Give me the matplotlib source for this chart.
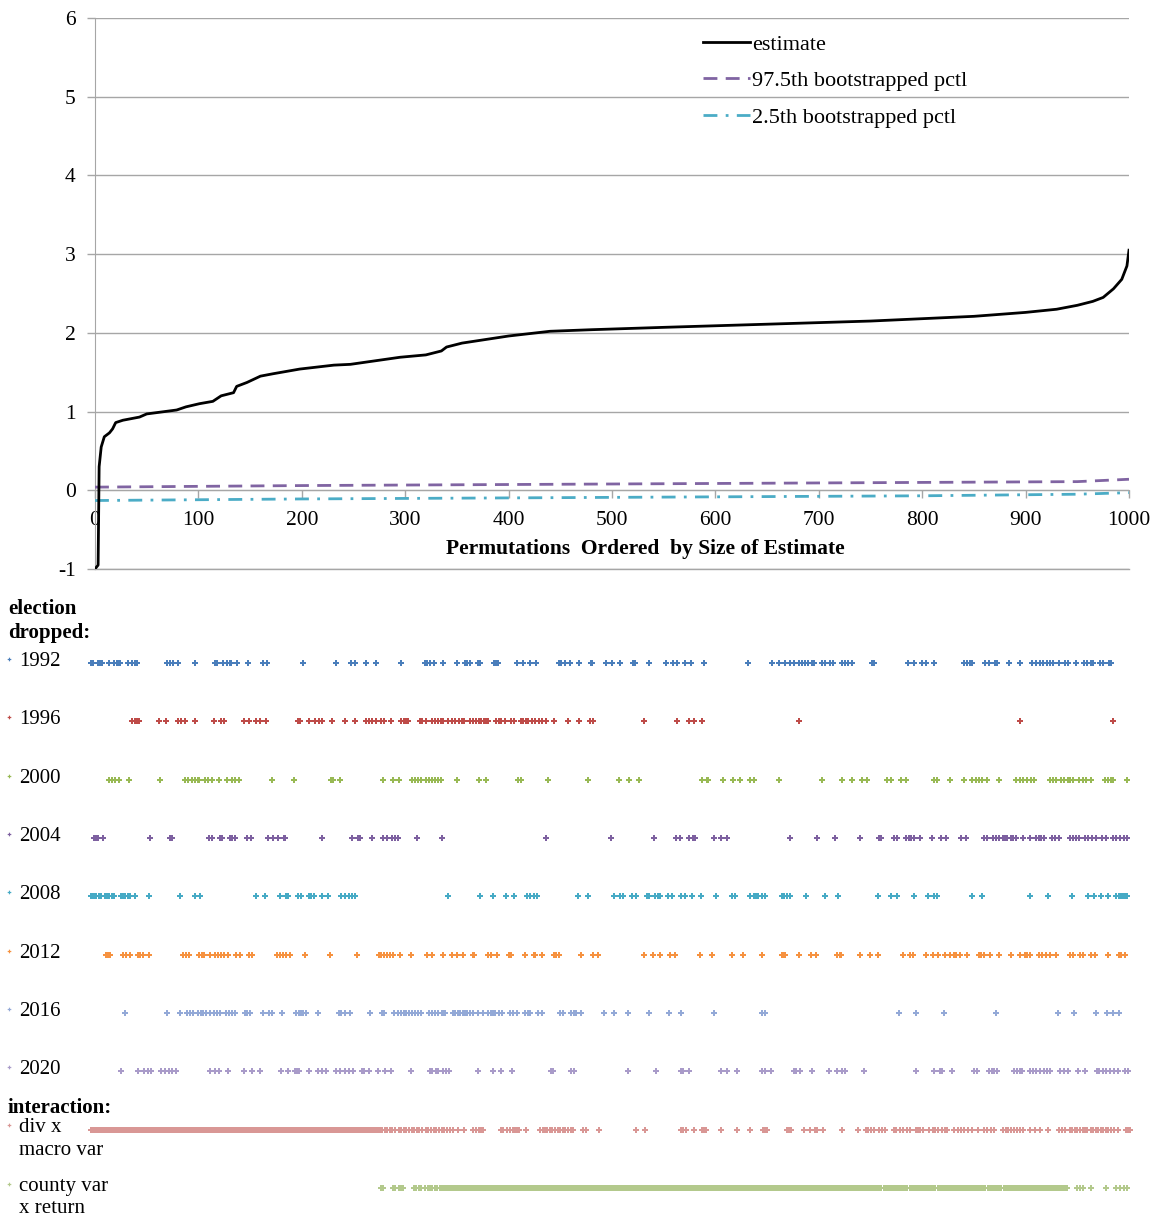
import numpy as np
import matplotlib.pyplot as plt
from matplotlib.lines import Line2D

plt.rcParams['font.family'] = ['Liberation Serif', 'DejaVu Serif']
plt.rcParams['axes.unicode_minus'] = False

W, H = 1157, 1220

# top panel: estimates ordered by size, with bootstrapped percentiles
est_x = [0, 3, 4, 6, 9, 14, 17, 20, 27, 43, 50, 79, 88, 101, 114, 122, 134, 137,
         147, 160, 172, 198, 231, 247, 279, 295, 320, 335, 340, 355, 380, 400,
         420, 440, 480, 550, 600, 650, 700, 750, 800, 850, 900, 930, 950, 965,
         975, 985, 993, 998, 1000]
est_y = [-1.0, -0.95, 0.3, 0.55, 0.68, 0.73, 0.78, 0.86, 0.89, 0.93, 0.97, 1.02,
         1.06, 1.10, 1.13, 1.20, 1.24, 1.32, 1.37, 1.45, 1.48, 1.54, 1.59, 1.60,
         1.66, 1.69, 1.72, 1.77, 1.82, 1.87, 1.92, 1.96, 1.99, 2.02, 2.04, 2.07,
         2.09, 2.11, 2.13, 2.15, 2.18, 2.21, 2.26, 2.30, 2.35, 2.40, 2.45, 2.56,
         2.68, 2.85, 3.05]
hi_x = [0, 200, 500, 800, 950, 1000]
hi_y = [0.04, 0.06, 0.08, 0.10, 0.11, 0.14]
lo_x = [0, 200, 500, 800, 950, 1000]
lo_y = [-0.13, -0.11, -0.09, -0.07, -0.05, -0.03]

# bottom panel: which permutations drop which election / interaction
row_labels = ['1992', '1996', '2000', '2004', '2008', '2012', '2016', '2020',
              'div x\nmacro var', 'county var\nx return']
row_colors = ['#4A7EBB', '#BE4B48', '#98B954', '#7D60A0', '#46AAC5', '#F69240',
              '#93A9D7', '#A99BC9', '#D99795', '#B3C98C']

dots_1992 = [0, 2, 7, 9, 11, 17, 22, 25, 26, 28, 36, 39, 42, 44, 73, 76, 79, 84, 100,
             119, 121, 127, 131, 134, 135, 141, 151, 166, 169, 204, 236, 250, 254, 265,
             274, 298, 321, 323, 326, 330, 339, 352, 360, 362, 365, 372, 374, 388, 390,
             392, 410, 416, 423, 428, 450, 452, 456, 461, 470, 481, 482, 496, 501, 509,
             522, 524, 537, 553, 560, 564, 572, 577, 590, 632, 655, 662, 668, 673, 677,
             681, 684, 687, 690, 694, 696, 704, 706, 711, 714, 723, 726, 729, 732, 752,
             754, 786, 792, 800, 804, 811, 840, 843, 846, 848, 860, 864, 870, 872, 884,
             894, 906, 910, 913, 916, 920, 923, 926, 932, 937, 940, 948, 956, 959, 962,
             964, 971, 974, 980, 982]
dots_1996 = [39, 42, 44, 46, 65, 72, 84, 87, 90, 100, 118, 125, 128, 147, 152, 159, 163,
             168, 199, 201, 210, 216, 219, 222, 232, 244, 254, 265, 268, 270, 274, 279,
             282, 289, 298, 301, 303, 305, 317, 319, 322, 328, 331, 334, 337, 339, 344,
             347, 350, 354, 357, 359, 365, 368, 371, 373, 375, 378, 380, 382, 390, 393,
             395, 398, 404, 407, 414, 416, 419, 421, 424, 427, 431, 434, 438, 446, 459,
             470, 480, 483, 532, 564, 576, 580, 588, 681, 894, 984]
dots_2000 = [17, 20, 23, 27, 37, 66, 90, 93, 97, 100, 103, 104, 110, 113, 116, 123, 131,
             136, 139, 142, 174, 195, 231, 233, 240, 281, 291, 296, 309, 312, 315, 318,
             322, 325, 328, 331, 334, 337, 352, 373, 380, 411, 414, 440, 478, 508, 518,
             527, 588, 593, 594, 608, 618, 625, 634, 638, 662, 704, 723, 732, 742, 747,
             766, 770, 780, 784, 811, 814, 827, 840, 848, 852, 855, 858, 862, 874, 890,
             894, 897, 901, 905, 908, 923, 926, 929, 934, 936, 940, 942, 945, 951, 955,
             958, 962, 976, 979, 982, 984, 997]
dots_2004 = [3, 5, 7, 12, 57, 76, 78, 114, 116, 124, 126, 134, 136, 139, 150, 154, 170,
             175, 180, 186, 187, 222, 251, 257, 259, 270, 281, 285, 290, 293, 295, 314,
             338, 438, 500, 542, 563, 567, 576, 579, 581, 600, 606, 612, 673, 699, 716,
             740, 758, 760, 773, 776, 784, 787, 789, 792, 798, 809, 818, 823, 837, 842,
             859, 862, 868, 871, 874, 878, 880, 882, 885, 887, 890, 897, 904, 910, 912,
             914, 917, 925, 928, 932, 942, 945, 948, 951, 957, 960, 963, 967, 973, 977,
             984, 987, 990, 994, 997]
dots_2008 = [0, 2, 4, 5, 8, 10, 13, 15, 17, 20, 22, 29, 31, 33, 36, 38, 42, 56, 86, 100,
             105, 159, 167, 182, 188, 190, 199, 202, 210, 212, 215, 222, 228, 241, 244,
             248, 251, 254, 344, 374, 387, 399, 407, 420, 423, 426, 429, 469, 478, 503,
             509, 512, 521, 525, 535, 537, 543, 546, 548, 555, 559, 568, 572, 578, 587,
             602, 617, 620, 634, 638, 640, 642, 646, 649, 665, 667, 670, 673, 688, 706,
             719, 757, 770, 776, 792, 806, 811, 814, 848, 858, 904, 921, 944, 960, 965,
             972, 979, 987, 989, 991, 993, 995, 997]
dots_2012 = [14, 16, 18, 31, 34, 38, 45, 47, 50, 56, 89, 91, 94, 104, 107, 109, 115, 119,
             122, 125, 128, 132, 140, 143, 152, 155, 179, 182, 185, 188, 192, 206, 230,
             256, 277, 279, 282, 285, 288, 291, 297, 308, 323, 328, 339, 347, 352, 358,
             368, 369, 382, 385, 391, 402, 404, 418, 426, 427, 434, 446, 448, 450, 472,
             483, 488, 532, 541, 548, 557, 562, 586, 598, 617, 628, 646, 665, 666, 668,
             681, 693, 698, 718, 721, 722, 740, 750, 757, 782, 788, 791, 804, 810, 815,
             822, 827, 831, 833, 836, 843, 855, 857, 859, 865, 874, 885, 894, 899, 901,
             904, 912, 915, 919, 923, 929, 942, 945, 952, 955, 962, 966, 979, 989, 991,
             995]
dots_2016 = [33, 73, 86, 92, 95, 98, 103, 106, 108, 111, 115, 118, 121, 124, 130, 133,
             136, 139, 148, 150, 153, 166, 171, 174, 184, 197, 200, 202, 204, 207, 218,
             239, 241, 244, 249, 269, 280, 282, 292, 295, 298, 301, 303, 306, 309, 312,
             315, 318, 325, 328, 331, 334, 338, 340, 341, 348, 350, 353, 355, 358, 360,
             362, 365, 368, 372, 377, 382, 385, 387, 389, 393, 396, 403, 406, 410, 418,
             421, 423, 430, 434, 451, 454, 462, 465, 467, 472, 494, 503, 517, 537, 556,
             568, 600, 646, 649, 778, 794, 821, 871, 931, 946, 967, 978, 984, 989]
dots_2020 = [29, 45, 51, 55, 58, 67, 71, 75, 78, 82, 115, 119, 123, 132, 147, 155, 163,
             183, 190, 196, 198, 200, 210, 218, 222, 226, 236, 240, 244, 248, 252, 261,
             263, 268, 276, 283, 289, 308, 326, 328, 332, 334, 339, 342, 345, 372, 387,
             395, 405, 443, 445, 462, 465, 517, 544, 568, 570, 576, 606, 612, 622, 646,
             649, 654, 677, 679, 682, 694, 710, 718, 723, 726, 744, 794, 811, 817, 819,
             829, 850, 853, 864, 867, 869, 872, 888, 891, 894, 896, 904, 907, 910, 913,
             917, 920, 923, 933, 936, 940, 950, 957, 968, 970, 974, 977, 981, 985, 988,
             995, 998]
# dense stretches are kept as (first, last) permutation runs
div_macro_runs = [(0, 278)]
div_macro_dots = [280, 283, 285, 288, 290, 293, 296, 298, 301, 303, 306, 309, 311, 314,
                  316, 319, 322, 324, 327, 330, 332, 335, 338, 340, 343, 346, 348, 353,
                  359, 368, 371, 373, 375, 377, 395, 397, 400, 403, 406, 408, 410, 412,
                  419, 432, 435, 437, 439, 442, 444, 447, 449, 451, 454, 456, 459, 462,
                  464, 474, 476, 489, 525, 533, 568, 570, 573, 580, 588, 590, 592, 606,
                  622, 634, 647, 649, 651, 670, 672, 674, 686, 692, 697, 699, 705, 723,
                  738, 746, 748, 751, 754, 758, 761, 764, 773, 775, 779, 782, 785, 788,
                  794, 796, 798, 801, 807, 810, 812, 815, 819, 822, 824, 831, 834, 837,
                  840, 844, 848, 854, 859, 862, 866, 869, 878, 881, 883, 885, 888, 891,
                  894, 897, 904, 909, 913, 921, 932, 935, 937, 942, 944, 947, 949, 952,
                  955, 957, 959, 962, 964, 967, 969, 972, 974, 977, 979, 982, 985, 988,
                  996, 998, 1000]
county_runs = [(336, 760), (763, 785), (788, 812), (815, 860), (863, 876), (879, 939)]
county_dots = [279, 281, 291, 293, 296, 298, 300, 311, 313, 316, 318, 321, 324, 326,
               328, 331, 333, 949, 952, 955, 962, 977, 987, 990, 994, 997]


def with_runs(dots, runs):
    pts = list(dots)
    for a, b in runs:
        pts += list(range(a, b + 1))
    return sorted(pts)


rows = [dots_1992, dots_1996, dots_2000, dots_2004, dots_2008, dots_2012,
        dots_2016, dots_2020, with_runs(div_macro_dots, div_macro_runs),
        with_runs(county_dots, county_runs)]


def fx(px):
    return px / W


def fy(py):
    return 1 - py / H


fig = plt.figure(figsize=(W / 100, H / 100), dpi=100)

# ---- top line chart
ax = fig.add_axes([fx(95), fy(569), (1129 - 95) / W, (569 - 18) / H])
grey = '#a6a6a6'
ax.plot(est_x, est_y, color='black', lw=2, label='estimate', zorder=4)
ax.plot(hi_x, hi_y, color='#8064A2', lw=2, dashes=(5, 3),
        label='97.5th bootstrapped pctl', zorder=3)
ax.plot(lo_x, lo_y, color='#4BACC6', lw=2, dashes=(5, 3, 1, 3),
        label='2.5th bootstrapped pctl', zorder=3)
ax.set_xlim(0, 1000)
ax.set_ylim(-1, 6)
ax.set_yticks(range(-1, 7))
ax.set_xticks(range(0, 1001, 100))
ax.yaxis.grid(True, color=grey, lw=1)
ax.axhline(-1, color=grey, lw=1, clip_on=False, zorder=0)
ax.set_axisbelow(True)
for s in ['top', 'right']:
    ax.spines[s].set_visible(False)
ax.spines['bottom'].set_position(('data', 0))
ax.spines['bottom'].set_color(grey)
ax.spines['left'].set_color(grey)
ax.tick_params(axis='both', colors=grey, labelcolor='black', labelsize=15.5,
               length=6, width=1)
ax.tick_params(axis='y', pad=8)
ax.tick_params(axis='x', pad=9)
ax.legend(loc='upper left', bbox_to_anchor=(fx(703), fy(34)),
          bbox_transform=fig.transFigure, frameon=False, fontsize=16,
          handlelength=2.1, handletextpad=0.12, labelspacing=0.72,
          borderpad=0, borderaxespad=0)
fig.text(fx(645), fy(549), 'Permutations  Ordered  by Size of Estimate',
         ha='center', va='center', fontsize=15.5, fontweight='bold')

# ---- bottom dot strips
bx = fig.add_axes([fx(91), 0, (1130 - 91) / W, 620 / H])
bx.set_xlim(0, 1000)
bx.set_ylim(9.55, -1.08)
bx.axis('off')
for i, (pts, c) in enumerate(zip(rows, row_colors)):
    bx.plot(pts, [i] * len(pts), ls='none', marker='P', ms=4.2, mew=0,
            color=c, clip_on=False)

fig.text(fx(8), fy(599), 'election\ndropped:', ha='left', va='top',
         fontsize=15, fontweight='bold', linespacing=1.28)
fig.text(fx(8), fy(1098), 'interaction:', ha='left', va='top',
         fontsize=15, fontweight='bold')
for i, (lab, c) in enumerate(zip(row_labels, row_colors)):
    ry = 663 + i * 58.3
    fig.add_artist(Line2D([fx(9)], [fy(ry - 4)], marker='P', ms=2.6, mew=0,
                          color=c, transform=fig.transFigure))
    fig.text(fx(19), fy(ry - 11), lab, ha='left', va='top', fontsize=15,
             linespacing=1.25)

fig.savefig('out.png', dpi=100)
